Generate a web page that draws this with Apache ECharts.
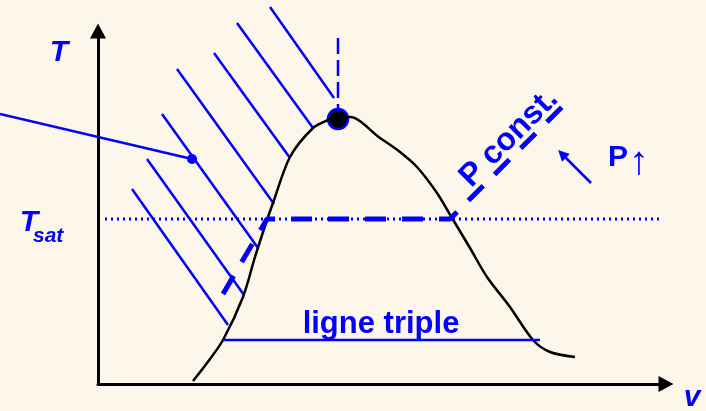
<!DOCTYPE html>
<html>
<head>
<meta charset="utf-8">
<script src="https://cdn.jsdelivr.net/npm/echarts@6/dist/echarts.min.js"></script>
<style>
  html, body { margin: 0; padding: 0; background: #FDF6EA; }
  #chart { width: 706px; height: 411px; }
</style>
</head>
<body>
<div id="chart"></div>
<script>
// diagramme T-v : coordonnées (origine = coin des axes)
var courbeSaturation = [[95,3],[109,21],[125,44],[145,87],[157,127],[169,164],[175,181],[192,227],
    [215,256],[230,264],[240,267],[252,267],[282,246],[302,232],[319,217],[339,191],[354,166],
    [372,136],[389,107],[412,77],[435,44],[452,32],[477,27]];
var hachures = [
    [[172,377],[236,286]],
    [[139,361],[215,256]],
    [[116,331],[192,226]],
    [[79,315],[176,180]],
    [[64,270],[160,136]],
    [[49,225],[146,89]],
    [[34,195],[130,59]]
];
var isobare = [[125,90],[169,165],[352,165],[473,286]];
var ligneTsat = [[7,165],[564,165]];
var ligneTriple = [[125,44],[442,44]];
var verticalCritique = [[240,346],[240,272]];
var pointCritique = [[240,265]];
var renvoi = [[-98,270],[94,225]];
var pointRenvoi = [[94,225]];
var flecheP = [[493,201],[464,230]];

var bleu = '#0000FF';
var myChart = echarts.init(document.getElementById('chart'));

var series = [];
hachures.forEach(function (seg) {
    series.push({
        type: 'line', data: seg, symbol: 'none', clip: false, silent: true,
        lineStyle: { color: bleu, width: 2.5 }
    });
});
series.push({
    type: 'line', data: ligneTsat, symbol: 'none', clip: false,
    lineStyle: { color: bleu, width: 3, type: [2, 4] }
});
series.push({
    type: 'line', data: courbeSaturation, symbol: 'none', smooth: 0.3, clip: false,
    lineStyle: { color: '#000', width: 2.5 }
});
series.push({
    type: 'line', data: isobare, symbol: 'none', clip: false,
    lineStyle: { color: bleu, width: 5, type: [21, 16] }
});
series.push({
    type: 'line', data: ligneTriple, symbol: 'none', clip: false,
    lineStyle: { color: bleu, width: 2.5 }
});
series.push({
    type: 'line', data: verticalCritique, symbol: 'none', clip: false,
    lineStyle: { color: bleu, width: 2.5, type: [16, 6] }
});
series.push({
    type: 'lines', coordinateSystem: 'cartesian2d', clip: false,
    lineStyle: { color: bleu, width: 2.5, opacity: 1 },
    data: [{ coords: renvoi }]
});
series.push({
    type: 'scatter', data: pointRenvoi, symbolSize: 10, clip: false,
    itemStyle: { color: bleu, opacity: 1 }
});
series.push({
    type: 'scatter', data: pointCritique, symbolSize: 20, clip: false,
    itemStyle: { color: '#000', borderColor: bleu, borderWidth: 2.5, opacity: 1 }
});
series.push({
    type: 'lines', coordinateSystem: 'cartesian2d', clip: false,
    symbol: ['none', 'triangle'], symbolSize: 11,
    lineStyle: { color: bleu, width: 2.5, opacity: 1 },
    data: [{ coords: flecheP }]
});

var police = 'Liberation Sans, Arial, sans-serif';

var option = {
    backgroundColor: '#FDF6EA',
    animation: false,
    grid: { left: 98, right: 40, top: 31, bottom: 27 },
    xAxis: {
        type: 'value', min: 0, max: 568,
        axisLine: { show: true, symbol: ['none', 'triangle'], symbolSize: [16, 15],
            lineStyle: { color: '#000', width: 3 } },
        axisTick: { show: false }, axisLabel: { show: false }, splitLine: { show: false }
    },
    yAxis: {
        type: 'value', min: 0, max: 353,
        axisLine: { show: true, symbol: ['none', 'triangle'], symbolSize: [16, 15],
            lineStyle: { color: '#000', width: 3 } },
        axisTick: { show: false }, axisLabel: { show: false }, splitLine: { show: false }
    },
    graphic: [
        { type: 'text', x: 59, y: 53, style: { text: 'T', fill: bleu, font: 'italic bold 30px ' + police, align: 'center', verticalAlign: 'middle' } },
        { type: 'text', x: 29, y: 223, style: { text: 'T', fill: bleu, font: 'italic bold 30px ' + police, align: 'center', verticalAlign: 'middle' } },
        { type: 'text', x: 33, y: 236, style: { text: 'sat', fill: bleu, font: 'italic bold 21px ' + police, align: 'left', verticalAlign: 'middle' } },
        { type: 'text', x: 692, y: 398, style: { text: 'v', fill: bleu, font: 'italic bold 30px ' + police, align: 'center', verticalAlign: 'middle' } },
        { type: 'text', x: 381, y: 324, style: { text: 'ligne triple', fill: bleu, font: 'bold 31px ' + police, align: 'center', verticalAlign: 'middle' } },
        { type: 'text', x: 509, y: 138, rotation: Math.PI / 4, style: { text: 'P const.', fill: bleu, font: 'bold 32px ' + police, align: 'center', verticalAlign: 'middle' } },
        { type: 'text', x: 608, y: 158, style: { text: 'P', fill: bleu, font: 'bold 30px ' + police, align: 'left', verticalAlign: 'middle' } },
        { type: 'text', x: 629, y: 163, style: { text: '↑', fill: bleu, font: '40px ' + police, align: 'left', verticalAlign: 'middle' } }
    ],
    series: series
};

myChart.setOption(option);
window.addEventListener('resize', function () {
    myChart.resize();
});
</script>
</body>
</html>
